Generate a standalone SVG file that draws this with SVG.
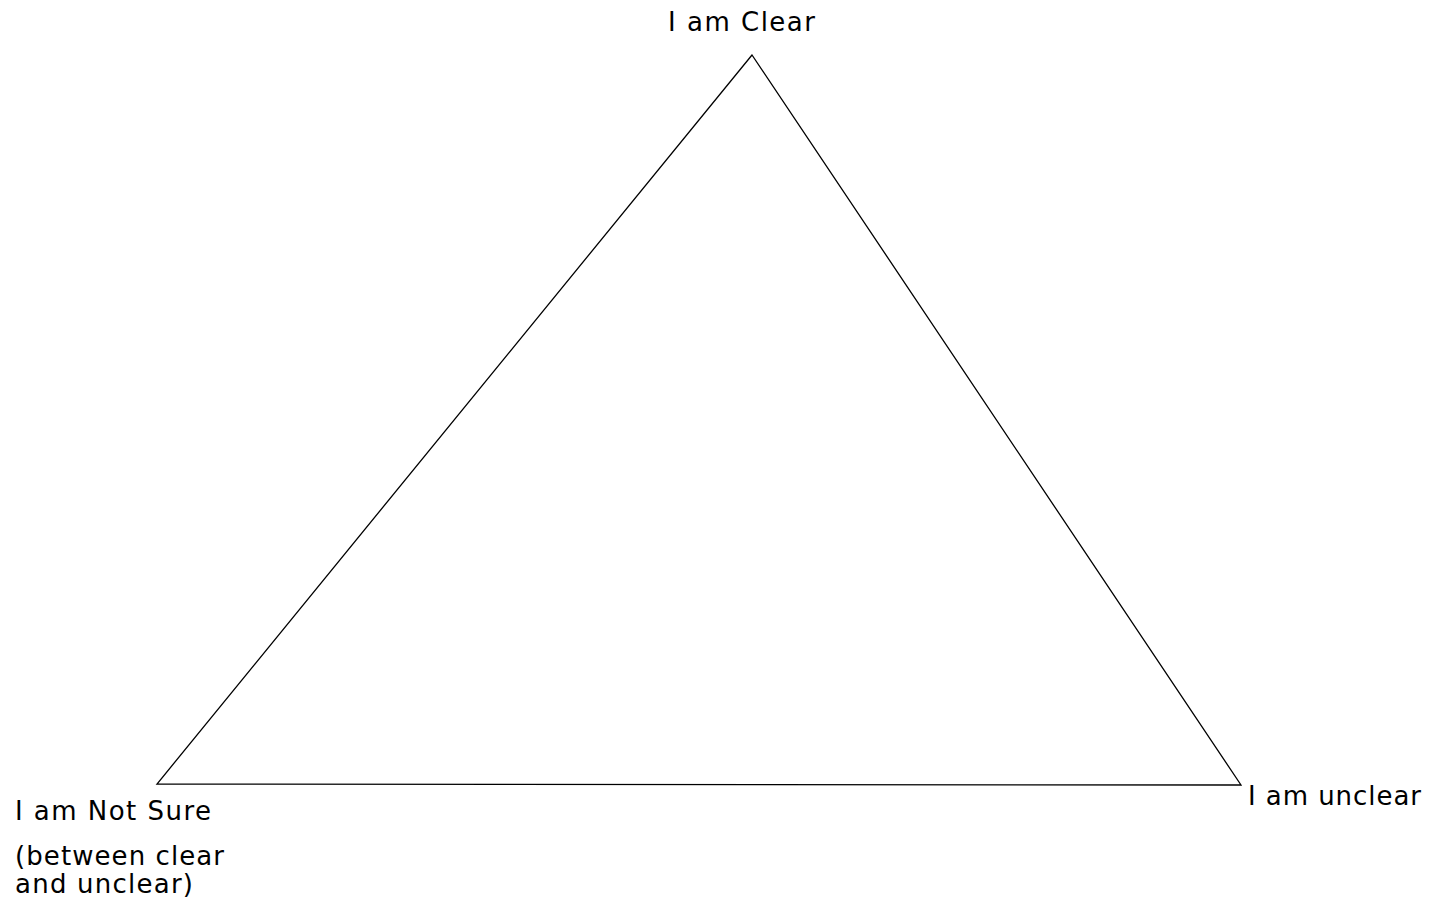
<svg xmlns="http://www.w3.org/2000/svg" width="1430" height="905" viewBox="0 0 1430 905">
<style>
text { font-family: "DejaVu Sans", "Liberation Sans", Arial, sans-serif; font-size: 26px; fill: #000; }
.edge { fill: none; stroke: #000; stroke-width: 1.3; }
</style>
<rect width="1430" height="905" fill="#fff"/>
<g id="connectors">
<path class="edge" d="M752,55 L157,784 L1241,785 Z"/>
</g>
<g id="node-clear">
<text x="668" y="31" textLength="147" lengthAdjust="spacing">I am Clear</text>
</g>
<g id="node-notsure">
<text x="15" y="820" textLength="196" lengthAdjust="spacing">I am Not Sure</text>
<text x="15" y="865" textLength="209" lengthAdjust="spacing">(between clear</text>
<text x="15" y="893" textLength="178" lengthAdjust="spacing">and unclear)</text>
</g>
<g id="node-unclear">
<text x="1248" y="805" textLength="173" lengthAdjust="spacing">I am unclear</text>
</g>
</svg>
